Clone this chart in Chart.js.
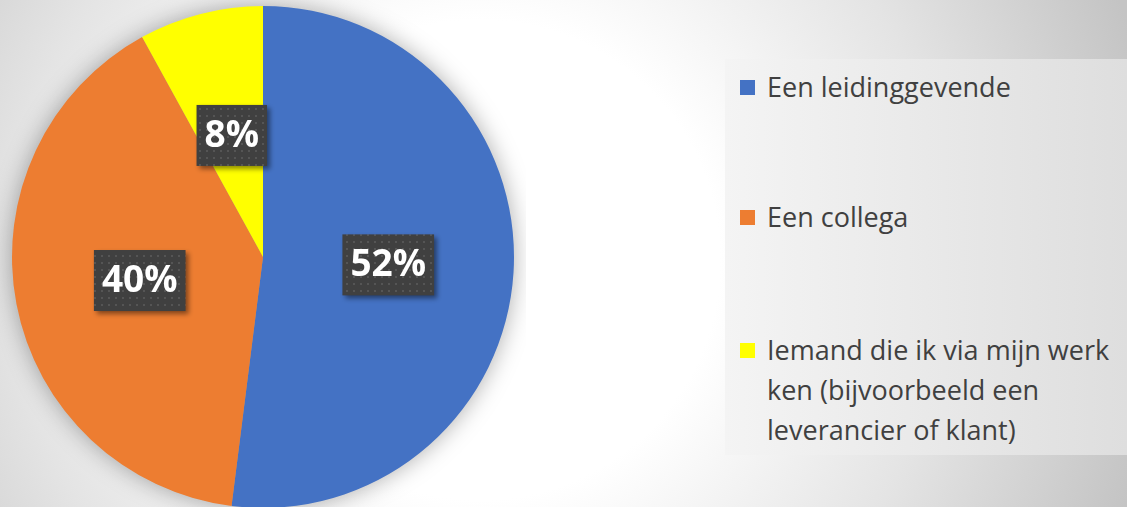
<!DOCTYPE html>
<html>
<head>
<meta charset="utf-8">
<script src="https://cdn.jsdelivr.net/npm/chart.js@4"></script>
<style>
  html, body {
    margin: 0;
    padding: 0;
  }
  body {
    width: 1127px;
    height: 507px;
    overflow: hidden;
    position: relative;
    background: radial-gradient(circle at 480px 260px, #ffffff 0px, #ffffff 240px, #e4e4e4 470px, #c4c4c4 690px);
    font-family: "Open Sans", sans-serif;
  }
  #pieWrap {
    position: absolute;
    left: 0;
    top: 0;
    width: 526px;
    height: 514px;
  }
  #legendBox {
    position: absolute;
    left: 725px;
    top: 59px;
    width: 402px;
    height: 396px;
    background: linear-gradient(90deg, #f4f4f4, #dedede);
  }
  .item {
    position: absolute;
    left: 15px;
    width: 387px;
    display: flex;
    align-items: flex-start;
    color: #404040;
    font-size: 27px;
    line-height: 40px;
  }
  .item .text {
    width: 360px;
  }
  .swatch {
    width: 15px;
    height: 15px;
    margin-top: 13px;
    margin-right: 12px;
    flex: none;
  }
</style>
</head>
<body>
<div id="pieWrap"><canvas id="pieChart" width="526" height="514"></canvas></div>
<div id="legendBox"></div>
<script>
const labels = ['Een leidinggevende', 'Een collega', 'Iemand die ik via mijn werk ken (bijvoorbeeld een leverancier of klant)'];
const values = [52, 40, 8];
const colors = ['#4472C4', '#ED7D31', '#FFFF00'];
const legendTops = [8, 138, 271];

// legend built from the same arrays
const box = document.getElementById('legendBox');
labels.forEach((text, i) => {
    const item = document.createElement('div');
    item.className = 'item';
    item.style.top = legendTops[i] + 'px';
    const sw = document.createElement('div');
    sw.className = 'swatch';
    sw.style.background = colors[i];
    const lab = document.createElement('div');
    lab.className = 'text';
    lab.textContent = text;
    item.appendChild(sw);
    item.appendChild(lab);
    box.appendChild(item);
});

// dotted dark fill for the data labels
function makePattern(ctx) {
    const c = document.createElement('canvas');
    c.width = 7;
    c.height = 7;
    const p = c.getContext('2d');
    p.fillStyle = '#404040';
    p.fillRect(0, 0, 7, 7);
    p.fillStyle = '#555555';
    p.fillRect(3, 3, 2, 2);
    return ctx.createPattern(c, 'repeat');
}

const shadowPlugin = {
    id: 'pieShadow',
    beforeDatasetsDraw(chart) {
        const arc = chart.getDatasetMeta(0).data[0];
        if (!arc) return;
        const ctx = chart.ctx;
        ctx.save();
        ctx.shadowColor = 'rgba(0,0,0,0.35)';
        ctx.shadowBlur = 24;
        ctx.fillStyle = '#999999';
        ctx.beginPath();
        ctx.arc(arc.x, arc.y, arc.outerRadius - 1, 0, Math.PI * 2);
        ctx.fill();
        ctx.restore();
    }
};

const labelPlugin = {
    id: 'boxLabels',
    afterDatasetsDraw(chart) {
        const ctx = chart.ctx;
        const pattern = makePattern(ctx);
        const meta = chart.getDatasetMeta(0);
        const total = values.reduce((a, b) => a + b, 0);
        ctx.save();
        ctx.font = 'bold 37px "Open Sans"';
        meta.data.forEach((arc, i) => {
            const pos = arc.tooltipPosition();
            const text = Math.round(values[i] / total * 100) + '%';
            const w = ctx.measureText(text).width + 16;
            const h = 61;
            ctx.save();
            ctx.shadowColor = 'rgba(0,0,0,0.45)';
            ctx.shadowBlur = 5;
            ctx.shadowOffsetX = 3;
            ctx.shadowOffsetY = 3;
            ctx.fillStyle = pattern;
            ctx.fillRect(pos.x - w / 2, pos.y - h / 2, w, h);
            ctx.restore();
            ctx.fillStyle = '#ffffff';
            ctx.textAlign = 'center';
            ctx.textBaseline = 'middle';
            ctx.fillText(text, pos.x, pos.y + 1);
        });
        ctx.restore();
    }
};

new Chart(document.getElementById('pieChart'), {
    type: 'pie',
    data: {
        labels: labels,
        datasets: [
            {
                data: values,
                backgroundColor: colors,
                borderWidth: 0,
            },
        ],
    },
    options: {
        responsive: false,
        animation: false,
        layout: {
            padding: { left: 12, right: 12, top: 6, bottom: 6 },
        },
        plugins: {
            legend: { display: false },
            tooltip: { enabled: false },
        },
    },
    plugins: [shadowPlugin, labelPlugin],
});
</script>
</body>
</html>
